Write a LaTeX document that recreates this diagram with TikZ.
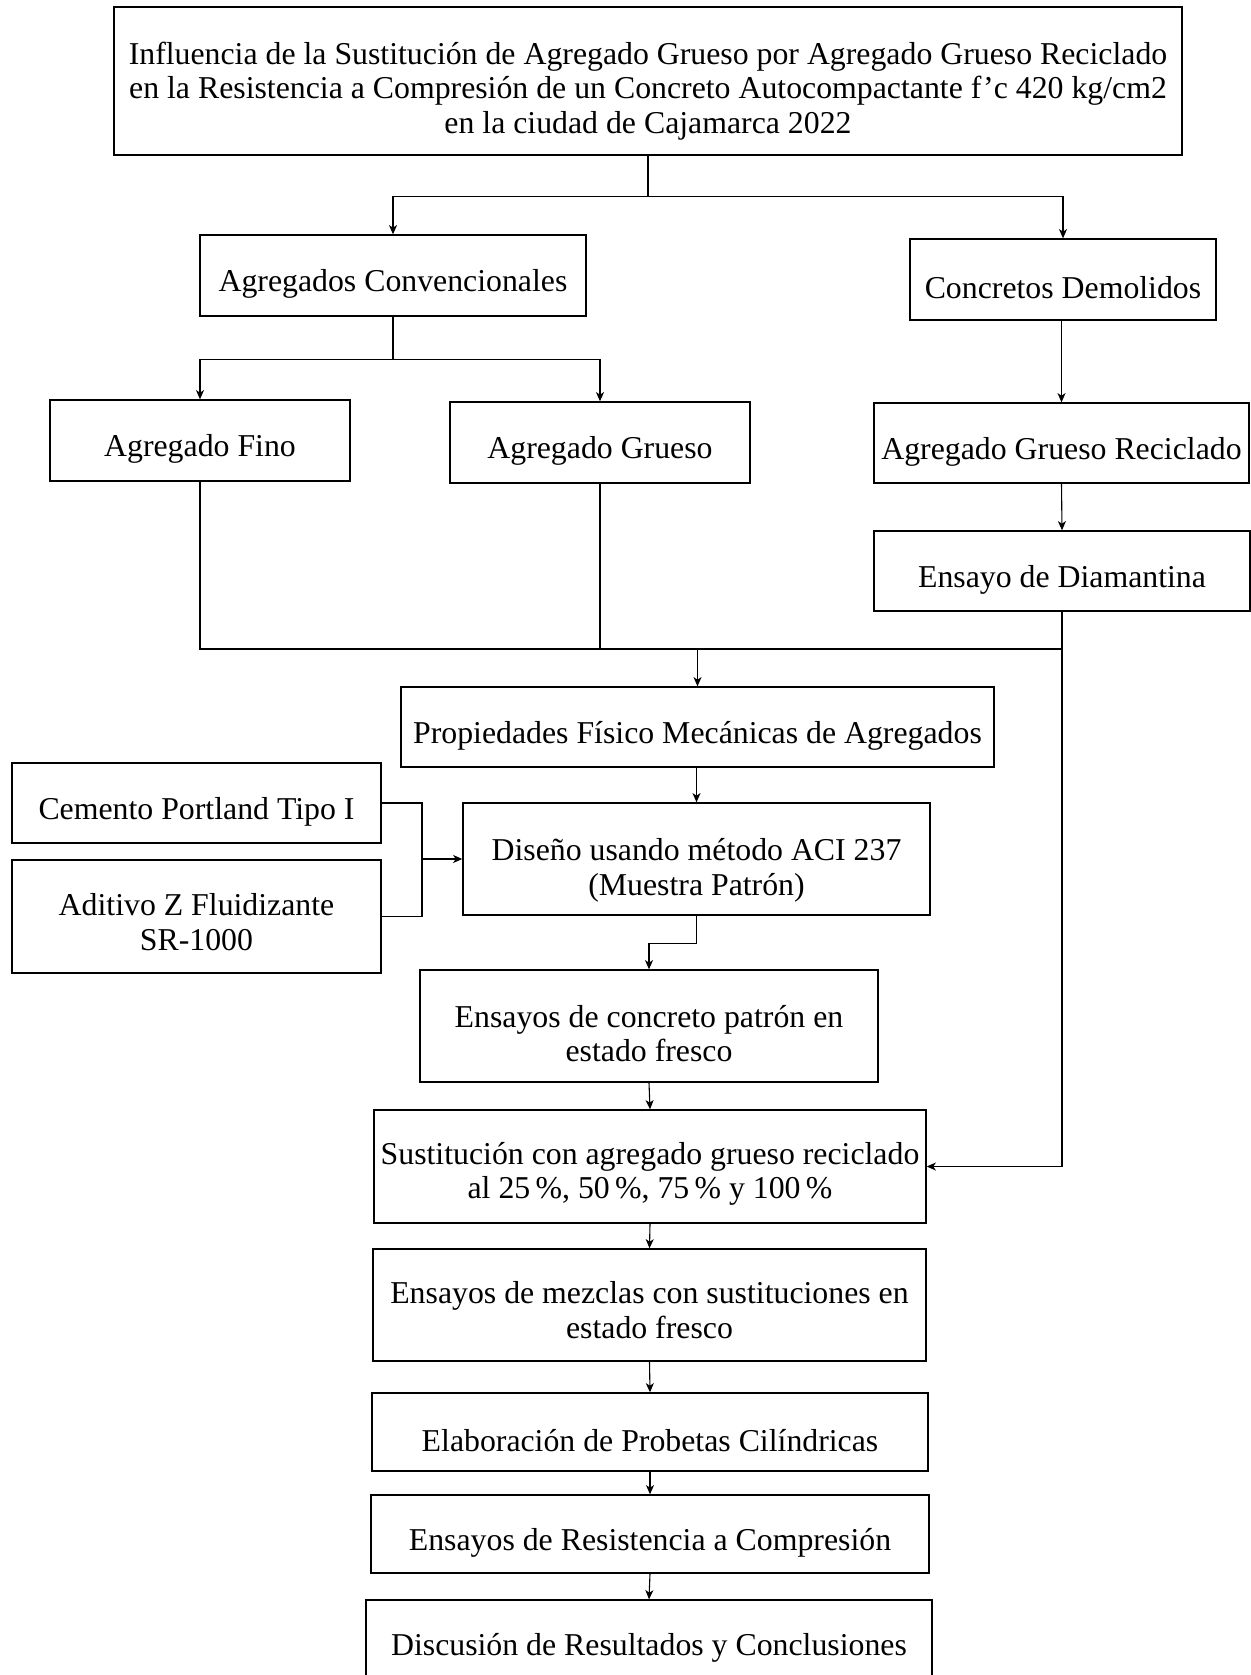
\documentclass[tikz,border=0pt]{standalone}
\usepackage{fontspec}
\setmainfont{Liberation Serif}
\usetikzlibrary{arrows.meta}
\def\tsh{4.7pt}
\tikzset{
  tshift/.code={\def\tsh{#1}},
  box/.style={draw, line width=0.7pt, inner sep=0pt, align=center,
    font=\fontsize{15.9}{17.4}\selectfont},
  titlebox/.style={box, line width=1.05pt},
  conn/.style={line width=0.55pt},
  arr/.style={conn, -{Stealth[length=4.6pt,width=4pt,inset=1.3pt]}},
}
\newcommand\bx[7][]{\node[box,#1, minimum width={(#5-#3)*0.5pt}, minimum height={(#6-#4)*0.5pt}] (#2) at ({(#3+#5)/2},{(#4+#6)/2}) {\raisebox{-\tsh}[\height][\depth]{\begin{tabular}{@{}c@{}}#7\end{tabular}}};}
\begin{document}
\begin{tikzpicture}[x=0.5pt,y=-0.5pt]
\useasboundingbox (0,0) rectangle (1251,1675);
\clip (0,0) rectangle (1251,1675);
\bx[titlebox,tshift=5.5pt]{title}{114}{7}{1182}{155}{Influencia de la Sustitución de Agregado Grueso por Agregado Grueso Reciclado\\en la Resistencia a Compresión de un Concreto Autocompactante f’c 420 kg/cm2\\en la ciudad de Cajamarca 2022}
\bx{AC}{200}{235}{586}{316}{Agregados Convencionales}
\bx[tshift=6pt]{CD}{910}{239}{1216}{320}{Concretos Demolidos}
\bx{AF}{50}{400}{350}{481}{Agregado Fino}
\bx{AG}{450}{402}{750}{483}{Agregado Grueso}
\bx{AGR}{874}{403}{1249}{483}{Agregado Grueso Reciclado}
\bx{EdD}{874}{531}{1250}{611}{Ensayo de Diamantina}
\bx{Prop}{401}{687}{994}{767}{Propiedades Físico Mecánicas de Agregados}
\bx{Cem}{12}{763}{381}{843}{Cemento Portland Tipo I}
\bx{Adit}{12}{860}{381}{973}{Aditivo Z Fluidizante\\SR-1000}
\bx[tshift=6.2pt]{Dis}{463}{803}{930}{915}{Diseño usando método ACI 237\\(Muestra Patrón)}
\bx[tshift=5.8pt]{EP}{420}{970}{878}{1082}{Ensayos de concreto patrón en\\estado fresco}
\bx[tshift=4pt]{Sus}{374}{1110}{926}{1223}{Sustitución con agregado grueso reciclado\\al 25\,\%, 50\,\%, 75\,\% y 100\,\%}
\bx{EM}{373}{1249}{926}{1361}{Ensayos de mezclas con sustituciones en\\estado fresco}
\bx[tshift=6.3pt]{Elab}{372}{1393}{928}{1471}{Elaboración de Probetas Cilíndricas}
\bx{ER}{371}{1495}{929}{1573}{Ensayos de Resistencia a Compresión}
\bx[tshift=2pt]{Disc}{366}{1600}{932}{1690}{Discusión de Resultados y Conclusiones}
% connectors
\draw[conn] (title.south) -- ++(0,40) coordinate (j1);
\draw[arr] (j1) -| (AC.north);
\draw[arr] (j1) -| (CD.north);
\draw[conn] (AC.south) -- ++(0,43) coordinate (j2);
\draw[arr] (j2) -| (AF.north);
\draw[arr] (j2) -| (AG.north);
\draw[arr] (AGR.north |- CD.south) -- (AGR.north);
\draw[arr] (AGR.south) -- (EdD.north);
\coordinate (mrg) at (Prop.north |- 0,649);
\draw[conn] (AF.south) |- (mrg);
\draw[conn] (AG.south) |- (mrg);
\draw[conn] (EdD.south) |- (mrg);
\draw[arr] (mrg) -- (Prop.north);
\draw[arr] (Dis.north |- Prop.south) -- (Dis.north);
\coordinate (cj) at (422,859);
\draw[conn] (Cem.east) -| (cj);
\draw[conn] (Adit.east) -| (cj);
\draw[arr] (cj) -- (Dis.west);
\draw[conn] (Dis.south) -- ++(0,28) coordinate (j3);
\draw[arr] (j3) -| (EP.north);
\draw[arr] (EdD.south) |- (Sus.east);
\draw[arr] (EP.south) -- (Sus.north);
\draw[arr] (Sus.south) -- (EM.north);
\draw[arr] (EM.south) -- (Elab.north);
\draw[arr] (Elab.south) -- (ER.north);
\draw[arr] (ER.south) -- (Disc.north);
\end{tikzpicture}
\end{document}
